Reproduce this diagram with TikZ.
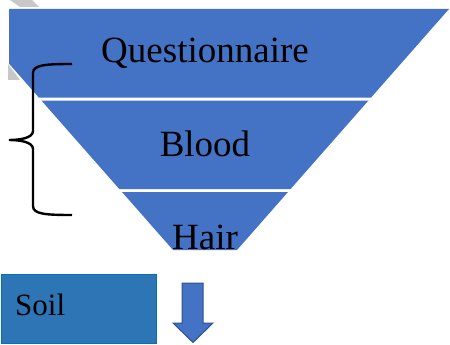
\documentclass[tikz,border=0pt]{standalone}
\usepackage{fontspec}
\setmainfont{Liberation Serif}
\definecolor{layerblue}{HTML}{4472C4}
\definecolor{soilfill}{HTML}{2E75B6}
\definecolor{soilline}{HTML}{0070C0}
\definecolor{arrowline}{HTML}{2F528F}
\definecolor{shadowgray}{HTML}{C8C8C8}
\begin{document}
\begin{tikzpicture}[x=1pt,y=-1pt,
  layer/.style={fill=layerblue,draw=none},
  layertext/.style={anchor=base,inner sep=0pt,font=\fontsize{37}{40}\selectfont},
  soilbox/.style={fill=soilfill,draw=soilline,line width=1.5pt,minimum width=155pt,minimum height=69pt,inner sep=0pt,anchor=north west},
  bracepath/.style={draw=black,line width=2.4pt},
  blockarrow/.style={fill=layerblue,draw=arrowline,line width=1pt,line join=miter}]
\useasboundingbox (0,0) rectangle (450,345);
% faint gray shadow pieces
\fill[shadowgray] (10,0) -- (32,0) -- (39,7) -- (20,7) -- cycle;
\fill[shadowgray] (8,64) -- (8,80) -- (20,80) -- cycle;
% layers
\path[layer] (9,9) -- (449,9) -- (371.1,97.5) -- (38.8,97.5) -- (9,63.6) -- cycle;
\path[layer] (41.4,100.5) -- (368.5,100.5) -- (290.6,189) -- (119.3,189) -- cycle;
\path[layer] (122,192) -- (288,192) -- (237,250) -- (173,250) -- cycle;
\node[layertext] (q) at (205,63) {Questionnaire};
\node[layertext] (b) at (205,156) {Blood};
\node[layertext] (h) at (205,249) {Hair};
% brace
\path[bracepath] (72,64) .. controls (45,64) and (33,65) .. (33,73) -- (33,131)
  .. controls (33,138) and (20,140) .. (9,140)
  .. controls (20,140) and (33,142) .. (33,149) -- (33,206)
  .. controls (33,214) and (45,215) .. (72,215);
% soil box
\node[soilbox] (soil) at (0.75,273.5) {};
\node[anchor=base west,inner sep=0pt,font=\fontsize{31}{34}\selectfont] (soiltext) at (15,315) {Soil};
% down arrow
\path[blockarrow] (182,283) -- (203,283) -- (203,323) -- (213,323) -- (193,342.5) -- (173,323) -- (182,323) -- cycle;
\end{tikzpicture}
\end{document}
